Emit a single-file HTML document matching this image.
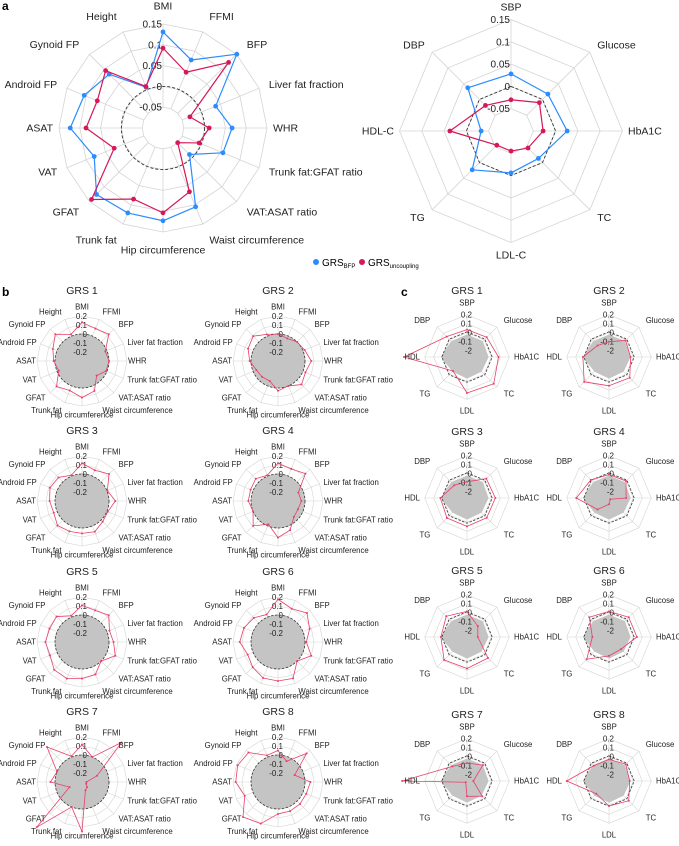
<!DOCTYPE html>
<html><head><meta charset="utf-8">
<style>
html,body{margin:0;padding:0;background:#fff;}
svg{display:block;font-family:"Liberation Sans",sans-serif;}
</style></head>
<body>
<svg id="fig" width="679" height="846" viewBox="0 0 679 846" xmlns="http://www.w3.org/2000/svg">
<text x="2" y="10" font-size="12" font-weight="bold">a</text>
<text x="2" y="296" font-size="12" font-weight="bold">b</text>
<text x="401" y="296" font-size="12" font-weight="bold">c</text>
<g>
<circle cx="316" cy="262" r="3" fill="#2b8cff"/>
<text x="322" y="266" font-size="10">GRS<tspan font-size="6" dy="2">BFP</tspan></text>
<circle cx="362" cy="262" r="3" fill="#d6175a"/>
<text x="368" y="266" font-size="10">GRS<tspan font-size="6" dy="2">uncoupling</tspan></text>
</g>
</svg>
<script>
// ---------- data ----------
const bodyAxes = ["BMI","FFMI","BFP","Liver fat fraction","WHR","Trunk fat:GFAT ratio","VAT:ASAT ratio","Waist circumference","Hip circumference","Trunk fat","GFAT","VAT","ASAT","Android FP","Gynoid FP","Height"];
const metaAxesA = ["SBP","Glucose","HbA1C","TC","LDL-C","TG","HDL-C","DBP"];
const metaAxesC = ["SBP","Glucose","HbA1C","TC","LDL","TG","HDL","DBP"];
const aBodyBFP = [0.131,0.077,0.151,0.037,0.066,0.056,-0.01,0.105,0.123,0.121,0.126,0.079,0.123,0.105,0.083,0.006];
const aBodyUnc = [0.092,0.045,0.123,-0.03,0.011,-0.006,-0.05,0.066,0.104,0.085,0.143,0.027,0.085,0.071,0.095,0.008];
const aMetaBFP = [0.028,0.017,0.026,-0.013,-0.006,0.023,-0.033,0.037];
const aMetaUnc = [-0.03,-0.01,-0.028,-0.046,-0.055,-0.055,0.037,-0.019];
const aTicks = ["0.15","0.1","0.05","0","-0.05"];
const aTickVals = [0.15,0.1,0.05,0,-0.05];
const bTicks = ["0.2","0.1","0","-0.1","-0.2"];
const bTickVals = [0.2,0.1,0,-0.1,-0.2];
const cTicks = ["0.2","0.1","0","-0.1","-2"];
const cTickVals = [0.2,0.1,0,-0.1,-0.2];
const grsTitles = ["GRS 1","GRS 2","GRS 3","GRS 4","GRS 5","GRS 6","GRS 7","GRS 8"];
const bGrs1 = [0.13,0.09,0.12,-0.02,0,-0.01,-0.07,0.06,0.107,0.055,0.1,-0.02,0.015,0.05,0.12,0.02];
const bGrs2 = [0,-0.03,0,0.02,0.07,0.03,0.07,0,0.03,-0.06,-0.05,-0.04,0.015,0.06,0.09,0.02];
const bGrs3 = [0.12,0.07,0.125,0.005,0.07,0.01,0.025,0.07,0.06,0.065,0.085,0.04,0.06,0.085,0.07,0.01];
const bGrs4 = [0.12,0.085,0.13,-0.055,-0.04,-0.06,-0.05,0.05,0.107,-0.02,0.09,0,0.03,0.03,0.05,0.01];
const bGrs5 = [0.107,0.08,0.12,0.03,0.05,0.1,0,0.09,0.107,0.14,0.137,0.085,0.107,0.09,0.1,0.015];
const bGrs6 = [0.175,0.1,0.155,0.08,0.015,0.1,0,0.137,0.133,0.133,0.097,0.065,0.125,0.11,0.08,0.03];
const bGrs7 = [0.115,0,0.32,-0.12,-0.25,-0.25,-0.22,-0.2,0.25,0,0.41,-0.15,0.05,0,0.25,0.01];
const bGrs8 = [0.05,-0.05,0.15,-0.1,0.06,0.04,0.045,0.05,0.055,0.2,0.25,0.1,0.17,0.185,0.163,0.02];
const cGrs1 = [0.034,0.04,0.08,0.15,0.13,-0.05,0.43,0.05];
const cGrs2 = [-0.1,-0.01,-0.03,0.056,0.05,0.12,0.02,-0.09];
const cGrs3 = [-0.09,0.034,0.045,0.04,0.045,0.045,0.026,-0.07];
const cGrs4 = [-0.01,-0.003,-0.08,-0.25,-0.2,-0.09,0.093,0.015];
const cGrs5 = [0.015,-0.1,-0.15,0.06,0.08,0.09,0.02,0.056];
const cGrs6 = [0.015,0.04,0.04,-0.08,-0.06,0.08,-0.085,0.04];
const cGrs7 = [-0.07,-0.02,-0.2,-0.03,-0.1,-0.25,0.45,-0.04];
const cGrs8 = [-0.03,-0.007,-0.04,0.04,0.008,-0.07,0.2,-0.03];
const cGreyBase = [-0.02,-0.02,-0.03,-0.04,-0.03,-0.04,0.02,-0.02];

// ---------- drawing ----------
const NS = "http://www.w3.org/2000/svg";
const svg = document.getElementById("fig");
function mk(tag, parent){ const e=document.createElementNS(NS,tag); parent.appendChild(e); return e; }
function pt(cx,cy,r,i,n){ const a=2*Math.PI*i/n; return [cx+r*Math.sin(a), cy-r*Math.cos(a)]; }
function polyPts(cx,cy,rs,n){ return rs.map((r,i)=>pt(cx,cy,Math.max(r,0),i,n).map(v=>v.toFixed(2)).join(",")).join(" "); }

function radar(o){
  const g = mk("g", svg);
  
  
  const n = o.axes.length;
  const R = v => Math.max(0,(v - o.v0) * o.k);
  o.rings.forEach(v=>{
    const p = mk("polygon", g);
    p.setAttribute("points", polyPts(o.cx,o.cy,new Array(n).fill(R(v)),n));
    p.setAttribute("fill","none"); p.setAttribute("stroke","#d4d4d4"); p.setAttribute("stroke-width", o.gw);
    
    
  });
  for(let i=0;i<n;i++){
    const a = pt(o.cx,o.cy,R(o.spokeFrom),i,n), b = pt(o.cx,o.cy,R(o.rings[o.rings.length-1]),i,n);
    const l = mk("line", g);
    l.setAttribute("x1",a[0]); l.setAttribute("y1",a[1]); l.setAttribute("x2",b[0]); l.setAttribute("y2",b[1]);
    l.setAttribute("stroke","#d4d4d4"); l.setAttribute("stroke-width", o.gw);
    
    
  }
  if(o.grey){
    const p = mk("polygon", g);
    p.setAttribute("points", polyPts(o.cx,o.cy,o.grey.map(R),n));
    p.setAttribute("fill","#c4c4c4"); p.setAttribute("stroke","none");
    
    
  }
  if(o.greyCircle){
    const c = mk("circle", g);
    c.setAttribute("cx",o.cx); c.setAttribute("cy",o.cy); c.setAttribute("r",R(0));
    c.setAttribute("fill","#c4c4c4");
    
    
  }
  if(o.zeroCircle){
    const c = mk("circle", g);
    c.setAttribute("cx",o.cx); c.setAttribute("cy",o.cy); c.setAttribute("r",R(0));
    c.setAttribute("fill","none"); c.setAttribute("stroke","#333"); c.setAttribute("stroke-width",o.dw); c.setAttribute("stroke-dasharray",o.dash);
    
    
  } else {
    const p = mk("polygon", g);
    p.setAttribute("points", polyPts(o.cx,o.cy,new Array(n).fill(R(o.zeroV||0)),n));
    p.setAttribute("fill","none"); p.setAttribute("stroke","#333"); p.setAttribute("stroke-width",o.dw); p.setAttribute("stroke-dasharray",o.dash);
    
    
  }
  o.tickVals.forEach((v,i)=>{
    const t = mk("text", g);
    t.setAttribute("x", o.cx + o.tickDx); t.setAttribute("y", o.cy - R(v) + o.tfs*0.35);
    t.setAttribute("text-anchor","end"); t.setAttribute("font-size", o.tfs); t.setAttribute("fill","#222");
    t.textContent = o.ticks[i];
    
    
  });
  o.series.forEach(s=>{
    const p = mk("polygon", g);
    p.setAttribute("points", polyPts(o.cx,o.cy,s.vals.map(R),n));
    p.setAttribute("fill","none"); p.setAttribute("stroke",s.color); p.setAttribute("stroke-width",s.w); p.setAttribute("stroke-linejoin","round");
    
    
    s.vals.forEach((v,i)=>{
      const q = pt(o.cx,o.cy,R(v),i,n);
      const c = mk("circle", g);
      c.setAttribute("cx",q[0]); c.setAttribute("cy",q[1]); c.setAttribute("r",s.dot); c.setAttribute("fill",s.color);
      
      
    });
  });
  o.axes.forEach((lab,i)=>{
    const a = 2*Math.PI*i/n, s=Math.sin(a), c=Math.cos(a);
    const L = o.lab + o.extra*Math.abs(c);
    const t = mk("text", g);
    t.setAttribute("x", o.cx + L*s); t.setAttribute("y", o.cy - L*c + o.fs*0.35);
    t.setAttribute("text-anchor", s>0.2?"start":(s<-0.2?"end":"middle"));
    t.setAttribute("font-size", o.fs); t.setAttribute("fill","#222");
    t.textContent = lab;
    
    
  });
  if(o.title){
    const t = mk("text", g);
    t.setAttribute("x", o.cx); t.setAttribute("y", o.titleY);
    t.setAttribute("text-anchor","middle"); t.setAttribute("font-size",10.5); t.setAttribute("fill","#222");
    t.textContent = o.title;
    
    
  }
}

radar({name:"radar-a-body",cx:163,cy:128,axes:bodyAxes,v0:-0.1,k:416,rings:[-0.05,0,0.05,0.1,0.15],spokeFrom:-0.05,
  zeroCircle:true,dw:0.9,dash:"3,2",gw:0.8,ticks:aTicks,tickVals:aTickVals,tickDx:-1,tfs:10,fs:10.5,lab:110,extra:12,
  series:[{name:"grs-bfp",vals:aBodyBFP,color:"#2b8cff",w:1.2,dot:2.4},{name:"grs-uncoupling",vals:aBodyUnc,color:"#d6175a",w:1.2,dot:2.4}]});
radar({name:"radar-a-metabolic",cx:511,cy:131,axes:metaAxesA,v0:-0.1,k:446,rings:[-0.05,0,0.05,0.1,0.15],spokeFrom:-0.05,
  zeroCircle:false,dw:0.9,dash:"3,2",gw:0.8,ticks:aTicks,tickVals:aTickVals,tickDx:-1,tfs:10,fs:10.5,lab:117,extra:7,
  series:[{name:"grs-bfp",vals:aMetaBFP,color:"#2b8cff",w:1.2,dot:2.4},{name:"grs-uncoupling",vals:aMetaUnc,color:"#d6175a",w:1.2,dot:2.4}]});

const bData=[bGrs1,bGrs2,bGrs3,bGrs4,bGrs5,bGrs6,bGrs7,bGrs8];
const cData=[cGrs1,cGrs2,cGrs3,cGrs4,cGrs5,cGrs6,cGrs7,cGrs8];
const rowY=[361,501,642,782];
for(let i=0;i<8;i++){
  const cx = i%2===0?82:278, cy=rowY[Math.floor(i/2)];
  radar({name:"radar-b-"+(i+1),cx:cx,cy:cy,axes:bodyAxes,v0:-0.3,k:90,rings:[-0.2,-0.1,0,0.1,0.2],spokeFrom:-0.2,
    greyCircle:true,zeroCircle:true,dw:0.8,dash:"2.5,1.5",gw:0.6,ticks:bTicks,tickVals:bTickVals,tickDx:5,tfs:8,fs:7.8,lab:46,extra:8,
    title:grsTitles[i],titleY:cy-67,
    series:[{name:"grs-effect",vals:bData[i],color:"#e8406a",w:0.8,dot:1}]});
}
const cRowY=[357,498,637,781];
for(let i=0;i<8;i++){
  const cx = i%2===0?467:609, cy=cRowY[Math.floor(i/2)];
  radar({name:"radar-c-"+(i+1),cx:cx,cy:cy,axes:metaAxesC,v0:-0.27,k:90,rings:[-0.2,-0.1,0,0.1,0.2],spokeFrom:-0.2,
    grey:cGreyBase,zeroCircle:false,zeroV:0.01,dw:0.8,dash:"2.5,1.5",gw:0.6,ticks:cTicks,tickVals:cTickVals,tickDx:5,tfs:8,fs:7.8,lab:47,extra:7,
    title:grsTitles[i],titleY:cy-63,
    series:[{name:"grs-effect",vals:cData[i],color:"#e8406a",w:0.8,dot:1}]});
}
</script>
</body></html>
